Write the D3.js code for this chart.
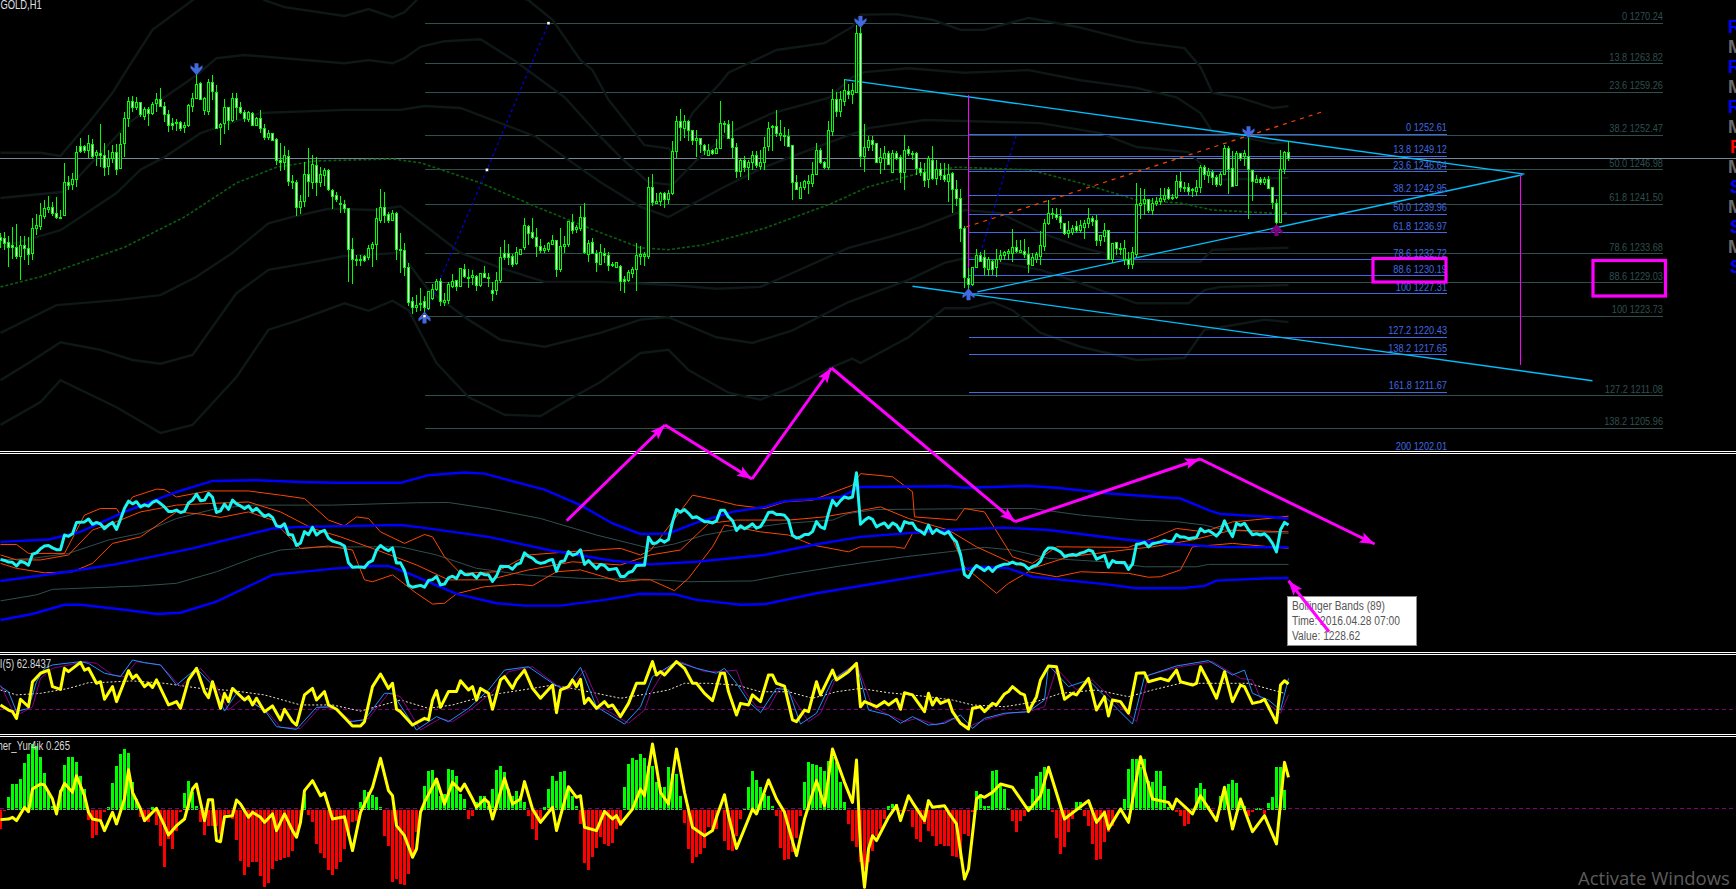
<!DOCTYPE html>
<html><head><meta charset="utf-8">
<script src="https://cdn.jsdelivr.net/npm/d3@7"></script>
<style>html,body{margin:0;padding:0;background:#000;overflow:hidden}svg{display:block}text{font-family:"Liberation Sans",Arial,sans-serif}</style>
</head><body><svg id="c" width="1736" height="889"></svg>
<script>
// ---------- candle data (GOLD,H1), one entry per bar ----------
const candleHighs=[1236.9,1237.1,1236.4,1237.9,1238.4,1236.4,1236.5,1236.3,1239.3,1240.0,
1241.7,1242.2,1242.8,1241.8,1242.6,1240.6,1248.0,1246.0,1246.4,1250.8,
1252.0,1251.0,1252.5,1251.8,1250.1,1254.2,1251.2,1250.1,1250.9,1251.1,
1252.9,1256.1,1258.5,1258.7,1258.5,1257.8,1256.9,1256.9,1257.8,1259.1,
1259.9,1257.7,1256.5,1255.2,1255.0,1254.8,1254.5,1257.4,1259.1,1262.7,
1261.0,1258.6,1261.4,1262.1,1260.5,1254.4,1258.2,1257.0,1259.1,1259.1,
1257.8,1256.5,1256.3,1256.1,1255.3,1256.5,1254.3,1253.3,1252.9,1252.0,
1251.3,1250.8,1250.2,1246.2,1245.4,1243.0,1248.3,1250.5,1249.3,1249.0,
1247.5,1247.2,1247.1,1244.0,1243.4,1242.8,1242.2,1240.9,1236.1,1233.5,
1233.5,1233.5,1235.1,1235.6,1241.0,1244.0,1243.4,1240.3,1240.6,1240.3,
1236.9,1235.4,1232.2,1226.8,1227.1,1228.3,1226.9,1227.8,1228.9,1229.6,
1229.8,1227.5,1229.2,1230.5,1229.5,1231.4,1232.0,1231.3,1231.1,1230.3,
1230.6,1231.7,1230.6,1229.2,1230.8,1234.7,1235.9,1235.2,1233.6,1234.7,
1234.4,1239.3,1238.2,1239.4,1237.7,1236.0,1235.1,1235.6,1236.6,1235.9,
1237.7,1236.4,1238.7,1240.0,1238.2,1241.3,1241.7,1235.9,1236.1,1234.2,
1235.2,1234.5,1234.0,1232.4,1232.4,1231.9,1230.1,1231.1,1231.6,1235.3,
1234.9,1234.0,1245.9,1246.3,1243.3,1243.5,1243.5,1243.8,1251.6,1255.6,
1256.6,1255.7,1254.9,1253.3,1253.3,1252.1,1251.1,1251.1,1250.3,1251.8,
1257.9,1254.7,1254.9,1254.7,1251.2,1248.8,1249.2,1248.5,1249.9,1250.0,
1250.1,1252.2,1254.6,1254.1,1256.4,1254.9,1253.7,1253.4,1250.8,1246.2,
1245.0,1245.4,1246.2,1248.2,1251.3,1250.4,1248.4,1254.7,1259.8,1259.4,
1259.5,1261.4,1260.6,1260.7,1270.0,1270.8,1254.3,1252.4,1252.3,1251.3,
1250.4,1250.8,1249.9,1250.1,1250.0,1249.4,1252.5,1250.7,1250.0,1249.8,
1248.3,1248.1,1249.1,1250.8,1248.6,1248.1,1248.1,1247.9,1246.6,1245.4,
1244.0,1238.0,1231.4,1231.6,1234.4,1234.0,1234.3,1233.2,1232.6,1234.4,
1234.3,1234.1,1234.4,1237.6,1235.9,1235.8,1236.0,1234.8,1233.7,1233.9,
1237.2,1239.1,1242.2,1241.0,1240.9,1240.7,1238.6,1238.8,1238.2,1238.8,
1239.0,1239.0,1240.9,1239.6,1239.8,1236.7,1238.6,1237.3,1235.4,1235.5,
1235.3,1235.9,1234.0,1234.8,1244.9,1244.1,1244.0,1242.4,1242.5,1242.7,
1244.1,1244.1,1244.2,1243.2,1246.2,1246.6,1245.1,1244.9,1244.1,1245.4,
1247.7,1247.7,1247.2,1246.9,1246.2,1246.7,1250.9,1250.7,1249.9,1249.9,
1249.7,1250.1,1252.7,1247.0,1246.2,1245.9,1245.8,1246.0,1244.2,1242.3,
1250.1,1249.9,1251.5];
const candleLows=[1234.5,1234.3,1231.5,1232.8,1232.8,1229.5,1232.7,1231.9,1232.7,1236.6,
1237.4,1239.1,1240.1,1239.6,1239.1,1239.2,1239.7,1243.7,1243.7,1244.2,
1249.7,1249.6,1248.8,1248.8,1247.6,1247.5,1246.0,1246.2,1248.0,1246.2,
1247.2,1249.0,1253.8,1256.2,1256.4,1255.3,1254.9,1254.0,1255.7,1256.1,
1256.9,1254.6,1253.0,1253.3,1253.2,1253.2,1252.9,1253.8,1256.2,1258.2,
1258.0,1255.7,1255.7,1258.1,1253.4,1250.9,1252.7,1253.3,1254.6,1254.9,
1255.8,1254.6,1254.5,1254.0,1254.0,1252.9,1251.7,1251.7,1251.5,1247.8,
1246.8,1247.0,1244.4,1243.9,1239.7,1240.0,1241.1,1242.6,1244.0,1242.8,
1244.2,1244.4,1243.6,1240.8,1241.8,1240.2,1240.2,1229.2,1228.9,1231.7,
1231.7,1232.3,1232.7,1231.6,1232.7,1238.6,1238.5,1238.6,1238.8,1232.7,
1230.6,1230.2,1225.3,1224.1,1224.4,1224.5,1224.0,1224.8,1226.3,1227.7,
1225.3,1225.3,1225.7,1228.3,1227.8,1228.4,1229.8,1228.3,1228.7,1227.8,
1228.4,1229.8,1228.4,1226.2,1227.1,1229.0,1232.7,1231.9,1231.6,1231.9,
1233.5,1234.3,1235.1,1236.0,1233.2,1233.8,1233.8,1234.0,1235.1,1229.9,
1230.8,1233.8,1234.8,1236.8,1237.0,1237.3,1233.6,1232.4,1233.6,1230.8,
1231.9,1232.2,1230.9,1231.6,1231.4,1227.8,1227.5,1229.1,1229.8,1227.8,
1231.9,1231.7,1232.9,1241.3,1241.5,1241.3,1240.9,1241.5,1243.0,1248.8,
1251.5,1252.0,1251.6,1250.9,1249.0,1249.6,1249.3,1249.1,1249.3,1249.5,
1250.3,1252.8,1251.8,1248.8,1245.7,1245.9,1246.7,1245.4,1247.0,1247.3,
1247.0,1247.0,1249.9,1249.9,1252.2,1251.5,1250.8,1250.6,1242.2,1243.7,
1242.4,1243.7,1243.2,1244.3,1246.2,1247.9,1247.1,1247.0,1252.3,1255.4,
1255.4,1257.1,1258.3,1257.4,1259.2,1247.5,1246.7,1250.0,1250.0,1248.0,
1246.3,1247.0,1247.7,1246.4,1248.6,1244.9,1243.7,1249.2,1248.6,1246.2,
1246.0,1244.3,1244.1,1245.4,1244.6,1245.4,1245.1,1241.9,1240.2,1241.3,
1235.6,1228.2,1227.4,1228.6,1231.4,1232.3,1230.3,1230.1,1230.3,1229.9,
1232.4,1232.7,1232.6,1232.4,1233.7,1233.7,1233.0,1230.6,1231.7,1232.2,
1231.8,1234.1,1238.2,1239.2,1239.0,1237.6,1236.6,1236.1,1236.7,1236.9,
1236.9,1236.0,1237.7,1238.0,1234.9,1234.9,1235.6,1232.6,1232.2,1233.5,
1233.5,1231.9,1231.3,1231.3,1233.2,1239.2,1239.8,1240.1,1239.8,1241.3,
1241.4,1241.9,1242.2,1242.2,1242.4,1243.5,1243.5,1243.0,1242.6,1242.8,
1243.3,1245.4,1244.9,1244.6,1244.3,1244.4,1246.2,1243.2,1244.3,1244.5,
1248.4,1247.6,1239.1,1242.1,1244.9,1244.6,1244.6,1243.9,1240.8,1237.7,
1238.5,1246.3,1248.4];
const bodyTops=[1236.2,1236.1,1235.5,1234.9,1234.7,1235.0,1234.9,1234.5,1237.7,1238.2,
1239.8,1240.8,1241.0,1241.0,1240.1,1239.4,1245.0,1245.0,1245.5,1249.8,
1250.7,1250.7,1251.1,1251.0,1249.8,1249.6,1249.2,1248.8,1249.8,1249.8,
1251.0,1255.2,1257.9,1257.9,1257.7,1257.7,1256.5,1256.5,1257.4,1258.1,
1258.2,1257.0,1255.7,1254.3,1254.5,1254.5,1254.0,1257.2,1258.3,1260.6,
1260.7,1258.3,1260.9,1260.9,1259.3,1254.2,1256.8,1256.8,1258.3,1258.3,
1256.9,1256.1,1256.1,1256.0,1255.2,1255.2,1253.6,1252.8,1252.8,1251.8,
1248.5,1249.3,1249.1,1245.2,1245.0,1242.0,1246.3,1246.3,1247.9,1247.7,
1246.2,1246.8,1246.8,1243.7,1242.9,1241.7,1241.5,1240.9,1234.3,1232.8,
1232.8,1233.2,1234.5,1235.2,1239.3,1241.0,1241.0,1239.9,1240.1,1240.1,
1234.4,1234.2,1231.5,1226.0,1225.5,1225.8,1226.0,1227.7,1228.0,1229.2,
1229.2,1226.3,1228.7,1229.3,1229.4,1231.3,1231.2,1229.9,1230.2,1230.1,
1230.5,1230.6,1229.9,1227.9,1229.4,1233.1,1233.7,1233.7,1233.2,1233.8,
1234.3,1238.2,1238.0,1237.0,1236.2,1234.8,1234.5,1235.3,1235.7,1235.7,
1234.8,1235.2,1238.7,1238.6,1237.8,1239.4,1239.4,1235.3,1235.5,1233.7,
1233.8,1233.7,1233.4,1232.0,1232.2,1231.7,1229.6,1230.7,1231.2,1233.4,
1233.5,1233.5,1244.2,1244.2,1242.0,1243.2,1243.2,1243.3,1249.9,1254.7,
1254.7,1254.7,1254.7,1253.3,1252.0,1252.0,1250.9,1250.1,1250.1,1250.4,
1254.4,1254.4,1254.2,1252.0,1250.6,1248.5,1248.5,1248.2,1249.3,1249.3,
1248.2,1250.6,1253.6,1253.8,1253.8,1252.8,1252.5,1252.3,1250.8,1244.9,
1244.2,1245.2,1245.2,1246.3,1250.1,1250.1,1248.2,1253.3,1258.2,1258.2,
1258.1,1259.5,1259.4,1259.5,1268.7,1268.7,1250.6,1251.7,1251.7,1251.1,
1249.0,1249.6,1249.6,1249.6,1249.6,1249.0,1250.1,1250.2,1249.6,1249.6,
1247.2,1246.5,1248.8,1248.4,1247.1,1247.1,1246.1,1246.3,1246.4,1243.9,
1242.5,1237.7,1229.8,1231.5,1233.4,1233.4,1233.0,1232.7,1232.5,1232.8,
1233.4,1233.9,1234.0,1234.7,1234.7,1234.1,1234.0,1233.6,1233.0,1233.5,
1235.0,1238.5,1240.1,1240.1,1239.9,1239.5,1238.5,1237.3,1237.6,1238.0,
1238.1,1238.5,1239.3,1239.3,1238.9,1236.5,1237.3,1237.3,1235.3,1235.5,
1234.5,1234.5,1232.7,1233.9,1241.5,1241.7,1242.2,1242.2,1241.7,1242.0,
1242.4,1242.9,1243.9,1242.6,1245.2,1245.2,1244.2,1244.2,1243.9,1244.1,
1247.4,1247.4,1246.7,1246.6,1245.8,1246.3,1250.4,1250.4,1247.2,1249.5,
1249.5,1249.5,1249.1,1246.9,1245.5,1245.5,1245.5,1245.5,1244.1,1241.7,
1247.0,1249.8,1249.8];
const bodyBottoms=[1235.7,1235.3,1234.7,1234.6,1233.2,1233.2,1234.5,1233.5,1233.7,1237.7,
1238.0,1239.6,1240.7,1240.1,1239.4,1239.2,1239.7,1244.5,1244.7,1245.5,
1249.9,1250.0,1250.0,1249.1,1249.2,1249.2,1247.4,1247.5,1248.7,1247.1,
1247.2,1251.2,1255.2,1256.9,1256.8,1255.7,1255.4,1256.0,1255.9,1257.5,
1257.0,1255.7,1254.0,1254.0,1254.3,1253.6,1253.7,1254.0,1257.0,1258.3,
1258.1,1256.4,1256.2,1259.4,1253.6,1253.7,1254.4,1254.8,1254.8,1256.9,
1256.1,1255.1,1254.9,1254.0,1254.0,1253.6,1252.1,1252.1,1251.7,1248.5,
1248.1,1248.1,1245.2,1245.0,1241.0,1241.0,1242.0,1245.1,1245.0,1245.0,
1245.0,1246.1,1243.8,1242.7,1242.2,1241.4,1240.8,1234.4,1232.7,1232.6,
1232.6,1232.6,1233.0,1234.5,1235.2,1239.0,1239.8,1239.0,1238.9,1234.3,
1234.2,1231.5,1225.9,1225.1,1225.1,1225.6,1225.1,1225.0,1226.5,1228.0,
1226.0,1225.9,1226.2,1228.4,1228.4,1228.4,1230.0,1229.8,1229.9,1228.6,
1228.6,1229.9,1229.9,1227.3,1227.9,1229.4,1233.0,1233.0,1232.0,1232.1,
1233.6,1234.6,1236.9,1236.2,1234.8,1234.2,1234.2,1234.3,1235.1,1231.2,
1231.1,1234.8,1235.1,1237.3,1237.5,1237.6,1233.8,1233.6,1233.7,1232.2,
1232.0,1233.4,1231.8,1231.8,1231.5,1229.2,1229.2,1229.4,1230.6,1231.2,
1233.3,1233.2,1233.2,1241.8,1241.7,1241.9,1242.3,1242.3,1243.2,1249.9,
1253.7,1253.5,1253.3,1251.6,1251.6,1251.0,1250.1,1249.2,1249.6,1249.6,
1250.4,1254.3,1251.9,1250.5,1246.7,1246.7,1247.4,1247.4,1248.1,1247.6,
1247.5,1248.2,1250.7,1253.7,1252.8,1252.4,1252.3,1250.7,1244.9,1243.9,
1242.4,1244.2,1244.8,1244.8,1246.3,1248.1,1247.4,1247.3,1253.1,1256.2,
1256.3,1257.9,1259.0,1258.9,1259.3,1249.1,1249.1,1250.6,1251.0,1248.1,
1248.1,1248.8,1247.8,1246.5,1248.8,1246.5,1246.5,1249.5,1249.5,1247.2,
1246.5,1245.3,1245.4,1245.6,1245.6,1246.1,1245.4,1245.2,1243.9,1242.4,
1237.7,1229.9,1228.8,1228.8,1231.5,1232.4,1231.4,1231.1,1231.1,1231.4,
1232.8,1233.4,1233.7,1233.7,1234.0,1233.9,1233.5,1232.0,1231.8,1232.8,
1233.3,1234.8,1238.4,1239.9,1239.4,1238.6,1236.8,1236.8,1237.0,1237.3,
1237.3,1237.9,1238.5,1238.8,1235.8,1235.8,1236.4,1232.7,1232.7,1234.5,
1234.4,1232.7,1231.9,1231.9,1233.6,1241.3,1241.6,1240.5,1240.5,1241.6,
1241.9,1242.2,1242.5,1242.4,1242.6,1244.2,1244.1,1243.6,1243.8,1243.6,
1244.1,1246.2,1246.1,1245.8,1244.6,1244.6,1246.3,1247.0,1244.4,1244.5,
1248.7,1249.1,1247.0,1245.1,1245.0,1245.0,1244.9,1244.0,1241.8,1238.6,
1238.6,1247.0,1248.8];
// W = falling candle (white body), H = rising candle (hollow body)
const candleKinds=("WWWWWHWWHH"+"HHHWWHHWHH"+"WWHWHWWHHW"+"HHHWHWHWHH"+"WWWWHWHHHH"+"WHHWWHHWHW"+"WWHWHWWHWW"+"WHWWWHHWHW"+"HHWWWHWWWH"+"HWHHHHWWHW"+"HWWWHHWHHH"+"WHHHWHWHHW"+"HWHWHHWWWH"+"HHWWWWHHHW"+"HHHWHHWHWW"+"HWWHHWWHHH"+"HHHWHHWHHH"+"WHWWHWWHWH"+"HHWWWHWHHW"+"HHHHWHHWWW"+"HHHHHWWHHW"+"HHWHHWHHWW"+"HHWHWWHWHW"+"WWHWHWWHWW"+"WWWHHWWHWH"+"HHHHWHWWHH"+"HHHHWWWHHW"+"HHHWWHHWHW"+"HHWHHHHWHH"+"HHWHHWHWHH"+"HWHWWHHWWH"+"WHWWHWHWWW"+"HHW").split("");

// ---------- main-window envelope lines: [bar, price] ----------
const envUpper3=[[0,1249.7],[10,1249.7],[15,1249.2],[22,1254.4],[28,1259.2],[32,1263.3],[38,1269.2],[48,1273.9],[58,1278.7],[66,1273.9],[71,1272.8],[86,1271.4],[92,1272.5],[98,1271.2],[101,1272.0],[104,1273.9],[112,1278.7],[132,1273.9],[138,1270.8],[145,1264.4],[148,1262.8],[152,1258.1],[161,1250.9],[167,1250.4],[168,1249.8],[173,1256.0],[180,1260.8],[182,1262.4],[194,1266.0],[206,1267.1],[213,1269.7],[215,1271.6],[224,1271.7],[233,1270.8],[240,1269.2],[246,1269.2],[257,1271.1],[269,1269.7],[284,1267.3],[296,1266.3],[300,1263.3],[303,1259.2],[310,1258.4],[318,1256.8],[322,1257.1]];
const envUpper2=[[0,1242.5],[16,1243.5],[32,1254.4],[41,1258.5],[49,1262.0],[54,1264.7],[61,1265.2],[86,1263.9],[92,1264.4],[98,1263.9],[101,1264.7],[105,1266.5],[111,1267.4],[120,1267.7],[129,1264.1],[141,1258.5],[150,1252.2],[155,1249.0],[162,1245.0],[168,1244.6],[174,1248.5],[182,1252.8],[193,1256.0],[207,1258.4],[213,1261.7],[216,1262.5],[227,1263.1],[241,1262.4],[257,1262.8],[270,1261.2],[284,1260.0],[294,1258.5],[300,1256.0],[303,1253.0],[308,1252.5],[318,1251.2],[322,1251.4]];
const envUpper1=[[0,1234.7],[9,1236.3],[15,1237.4],[20,1239.5],[29,1243.3],[35,1247.0],[41,1249.0],[50,1252.8],[65,1256.0],[86,1256.5],[100,1256.5],[106,1257.1],[115,1256.8],[125,1254.4],[134,1252.2],[141,1249.0],[150,1245.0],[160,1241.1],[167,1239.5],[181,1244.3],[191,1247.4],[204,1250.6],[217,1253.6],[231,1254.9],[260,1254.4],[275,1252.8],[284,1250.6],[297,1249.8],[301,1247.4],[303,1245.4],[322,1245.7]];
const envMiddle=[[0,1228.4],[10,1230.0],[31,1234.7],[46,1239.5],[59,1244.9],[69,1247.4],[79,1248.4],[98,1248.7],[105,1248.1],[120,1244.9],[134,1241.1],[150,1237.0],[160,1234.6],[167,1234.3],[176,1235.1],[191,1237.7],[208,1241.7],[217,1244.3],[230,1246.5],[239,1247.4],[257,1247.0],[270,1244.9],[284,1242.2],[295,1241.7],[303,1240.6],[318,1240.1],[322,1240.1]];
const envLower1=[[0,1221.1],[14,1225.5],[29,1226.3],[40,1227.1],[49,1230.0],[58,1233.8],[67,1238.5],[73,1239.5],[82,1240.8],[94,1240.6],[100,1241.2],[105,1238.7],[115,1233.8],[125,1231.4],[136,1229.2],[150,1229.2],[168,1228.7],[179,1228.1],[190,1228.4],[198,1230.6],[212,1234.6],[222,1236.3],[230,1237.9],[241,1240.6],[250,1240.1],[260,1237.0],[270,1234.7],[284,1232.4],[300,1232.4],[303,1234.3],[322,1234.6]];
const envLower2=[[0,1213.6],[7,1216.3],[15,1219.6],[25,1218.4],[33,1216.8],[40,1216.2],[48,1217.6],[59,1227.4],[67,1231.1],[77,1232.2],[86,1233.3],[100,1233.8],[107,1227.9],[117,1223.2],[125,1220.0],[136,1218.9],[150,1221.1],[160,1223.2],[167,1223.6],[179,1220.4],[188,1219.5],[198,1221.5],[212,1226.0],[227,1229.5],[236,1232.2],[242,1233.1],[260,1231.1],[270,1229.0],[284,1225.8],[297,1225.8],[301,1227.9],[305,1228.4],[322,1228.7]];
const envLower3=[[0,1206.5],[10,1210.1],[15,1213.6],[29,1209.3],[40,1205.2],[48,1206.5],[59,1214.1],[67,1221.6],[74,1223.0],[86,1225.8],[92,1224.6],[98,1226.2],[102,1224.7],[109,1216.3],[117,1210.9],[126,1208.1],[135,1207.9],[142,1210.5],[150,1213.3],[160,1217.9],[167,1218.4],[172,1215.2],[182,1211.6],[190,1210.5],[198,1212.5],[208,1215.7],[213,1217.0],[215,1216.3],[227,1220.4],[236,1225.0],[242,1225.0],[248,1226.0],[253,1224.7],[260,1221.1],[270,1218.9],[284,1216.8],[296,1217.1],[301,1221.6],[308,1222.3],[316,1223.2],[322,1222.8]];

// ---------- Fibonacci levels ----------
const fibOuterLevels=["0","13.8","23.6","38.2","50.0","61.8","78.6","88.6","100","127.2","138.2"];
const fibOuterPrices=[1270.24,1263.82,1259.26,1252.47,1246.98,1241.50,1233.68,1229.03,1223.73,1211.08,1205.96];
const fibInnerLevels=["0","13.8","23.6","38.2","50.0","61.8","78.6","88.6","100","127.2","138.2","161.8","200"];
const fibInnerPrices=[1252.61,1249.12,1246.64,1242.95,1239.96,1236.97,1232.72,1230.19,1227.31,1220.43,1217.65,1211.67,1202.01];
const fibOuterAxis=[[106,1223.73],[121.6,1246.98],[137,1270.24]];
const fibInnerAxis=[[241.9,1227.31],[254,1252.61]];

// ---------- fractal arrows: bar, tip price, direction ----------
const fractalBars=[49,215,312,106,242,319];
const fractalPrices=[1262.0,1269.5,1252.0,1224.5,1228.2,1238.4];
const fractalDirs=["down","down","down","up","up","up"];
const fractalColors=["#4169e1","#4169e1","#4169e1","#4169e1","#4169e1","#800080"];

// ---------- second window: bands on price ----------
const bbOuterUpper=[[0,1242.4],[12,1243.3],[20,1246.2],[31,1253.8],[44,1261.4],[53,1265.6],[64,1265.9],[75,1265.2],[84,1264.9],[100,1264.9],[107,1267.8],[116,1268.8],[121,1268.4],[136,1262.3],[145,1256.4],[153,1249.4],[160,1245.4],[167,1245.6],[174,1249.7],[183,1253.8],[191,1255.7],[196,1257.9],[210,1259.5],[215,1263.3],[237,1263.6],[241,1263.0],[257,1263.7],[264,1263.0],[277,1260.8],[295,1258.9],[302,1254.5],[305,1253.0],[317,1251.9],[322,1251.3]];
const bbMiddle=[[0,1227.5],[16,1230.8],[29,1233.9],[48,1239.9],[68,1247.5],[75,1248.1],[100,1248.8],[105,1247.9],[122,1244.3],[137,1239.3],[153,1235.2],[162.5,1233.8],[174,1234.8],[191,1237.4],[203,1241.2],[215,1244.3],[237,1246.9],[251,1247.8],[262,1246.9],[282,1243.1],[294,1241.6],[304,1240.5],[322,1240.3]];
const bbOuterLower=[[0,1212.6],[8,1214.9],[16,1218.4],[20,1218.4],[31,1216.5],[39,1214.9],[45,1215.4],[54,1219.6],[68,1229.8],[84,1232.3],[93,1233.2],[97,1233.2],[102,1230.4],[114,1222.6],[124,1219.0],[131,1218.1],[140,1218.1],[151,1220.3],[160,1222.6],[168.5,1222.4],[174,1220.3],[185,1218.4],[191,1218.6],[204,1222.8],[219,1226.6],[239,1231.7],[246,1232.9],[252,1232.3],[258,1229.1],[276,1226.3],[284,1224.7],[295,1224.7],[301,1225.6],[304,1227.6],[317,1228.5],[322,1228.62]];
const bbInnerUpper=[[0,1235.5],[8,1236.1],[17,1238.0],[27,1243.1],[35,1245.6],[44,1251.3],[54,1255.1],[63,1256.4],[83,1256.4],[104,1257.3],[112,1257.4],[122,1255.1],[135,1251.3],[149,1245.0],[162.5,1239.9],[168.5,1241.6],[176,1245.0],[183,1246.9],[196,1249.4],[208,1250.7],[212,1253.2],[219,1254.7],[246,1255.1],[258,1255.1],[270,1252.6],[284,1250.7],[294,1250.1],[301,1248.8],[306,1246.9],[322,1245.6]];
const bbInnerLower=[[0,1219.9],[9,1222.2],[13,1224.3],[35,1225.6],[44,1226.6],[54,1231.0],[64,1236.7],[70,1239.3],[79,1240.3],[91,1240.5],[100,1240.5],[109,1237.4],[119,1232.3],[131,1229.8],[145,1228.5],[162.5,1228.1],[172,1227.2],[188,1227.5],[196,1229.8],[210,1233.2],[226,1236.7],[237,1238.6],[246,1240.3],[253,1239.3],[262,1236.1],[276,1234.8],[286,1232.9],[299,1232.9],[302,1233.8],[322,1233.8]];
const fastUpper=[[0,1241.4],[4,1241.4],[7,1238.0],[16,1238.0],[21,1252.6],[25,1255.1],[29,1255.1],[30,1252.6],[33,1259.5],[39,1262.5],[41,1262.3],[44,1259.5],[52,1261.8],[62,1261.8],[70,1260.2],[76,1258.9],[82,1250.7],[86,1248.5],[89,1251.9],[92,1251.3],[95,1246.2],[101,1241.8],[106,1245.2],[108,1244.3],[111,1236.7],[115,1230.4],[124,1231.0],[132,1237.4],[142,1238.6],[155,1239.9],[160,1237.4],[162.5,1239.2],[167,1248.1],[173,1260.2],[179,1258.3],[184,1256.4],[191,1255.1],[196,1257.6],[203,1258.3],[213,1264.0],[215,1268.4],[223,1267.2],[228,1261.5],[228.5,1251.9],[239,1250.7],[241,1255.1],[246,1253.8],[253,1236.7],[258,1234.2],[264,1240.5],[282,1240.3],[289,1244.3],[294,1247.5],[301,1246.2],[308,1250.0],[317,1251.3],[322,1252.2]];
const fastMiddle=[[0,1237.4],[4,1235.5],[10,1235.5],[17,1237.4],[23,1246.9],[29,1250.1],[35,1253.8],[44,1256.4],[52,1257.0],[62,1257.6],[70,1253.8],[78,1247.5],[85,1244.3],[93,1239.9],[104,1233.6],[112,1227.9],[122,1227.9],[132,1231.7],[143,1234.8],[155,1233.6],[162.5,1237.4],[170,1239.3],[177,1249.4],[184,1250.7],[191,1250.7],[197,1250.7],[206,1251.9],[213,1253.8],[220,1255.7],[227,1251.3],[237,1246.9],[244,1240.5],[253,1234.2],[258,1232.3],[267,1236.7],[281,1239.3],[288,1240.5],[298,1243.1],[308,1246.9],[322,1246.2]];
const fastLower=[[0,1234.2],[4,1232.3],[11,1230.6],[18,1231.0],[23,1234.2],[28,1241.8],[35,1244.3],[41,1250.7],[44,1253.8],[50,1253.0],[55,1251.7],[62,1253.8],[68,1250.7],[75,1239.9],[82,1240.8],[88,1239.3],[91,1227.9],[93,1227.2],[98,1229.8],[104,1222.8],[108,1218.7],[111,1219.0],[114,1222.6],[121,1225.3],[129,1226.2],[133,1225.7],[139,1231.0],[145,1231.7],[155,1227.2],[160,1227.9],[162.5,1227.9],[168.5,1223.8],[172,1228.5],[178,1240.5],[181,1248.8],[190,1246.2],[197,1245.0],[203,1241.2],[212,1238.6],[215,1240.5],[223.5,1240.5],[226,1239.9],[228,1245.6],[237,1246.9],[241,1232.9],[249,1222.8],[252,1226.6],[257,1231.0],[264,1229.1],[270,1231.0],[282,1230.4],[287,1228.9],[290,1229.1],[295,1231.7],[298,1240.5],[308,1241.8],[322,1239.9]];

// ---------- third window: RSI(5) and its companions ----------
const rsiLine=[[0,52.2],[2,49.6],[3,48.8],[4,45.4],[5,55.1],[7,51.3],[8,64.0],[10,68.3],[12,69.9],[13,61.5],[15,60.1],[16,70.8],[17,69.1],[20,73.8],[21,69.9],[22,70.8],[24,63.2],[25,64.0],[26,55.1],[28,61.5],[29,53.9],[32,69.6],[33,65.7],[34,67.4],[36,61.5],[37,63.2],[38,61.1],[39,64.9],[42,52.2],[43,53.0],[44,53.9],[45,50.5],[47,64.9],[49,70.8],[51,59.0],[52,55.9],[53,64.0],[55,50.5],[56,58.1],[57,53.9],[58,60.6],[61,54.7],[62,56.4],[63,52.2],[64,55.6],[66,48.8],[68,51.7],[70,44.6],[71,50.0],[73,43.7],[74,42.0],[76,57.3],[78,60.6],[79,54.7],[81,59.0],[82,52.2],[84,50.0],[87,43.7],[88,41.5],[90,41.5],[91,43.7],[93,61.5],[95,67.9],[97,60.6],[98,63.2],[99,50.0],[100,48.8],[103,42.0],[106,45.4],[107,44.6],[108,54.7],[109,59.5],[110,51.0],[112,59.0],[114,59.0],[115,64.5],[117,59.8],[118,61.5],[119,54.7],[120,60.6],[122,58.1],[123,50.0],[125,64.9],[126,66.6],[128,60.6],[129,64.9],[131,69.9],[133,60.6],[135,55.6],[138,62.3],[139,48.3],[140,59.8],[142,61.5],[143,64.9],[144,61.5],[145,65.2],[146,53.0],[147,55.6],[149,50.5],[151,53.9],[152,51.3],[153,52.2],[155,46.3],[157,53.0],[159,63.2],[161,63.2],[163,74.2],[164,67.4],[165,69.1],[166,67.4],[169,74.2],[171,70.8],[173,63.2],[174,63.2],[176,58.1],[178,54.4],[180,68.3],[181,68.3],[182,59.0],[184,47.1],[185,53.0],[187,52.2],[188,57.3],[190,53.9],[192,67.4],[193,67.4],[194,63.2],[196,61.8],[198,44.6],[199,43.7],[201,49.6],[202,48.8],[204,64.0],[205,57.3],[208,69.9],[209,64.9],[212,69.1],[214,73.3],[215,51.3],[216,53.9],[219,51.3],[221,53.9],[222,52.2],[224,55.1],[225,50.0],[226,58.4],[228,57.3],[231,48.8],[232,58.1],[233,52.2],[234,55.6],[235,53.0],[237,54.7],[238,48.8],[240,42.9],[242,40.0],[243,50.5],[245,51.3],[246,48.8],[248,53.0],[249,52.2],[251,57.8],[252,59.0],[253,61.5],[255,58.1],[256,57.3],[257,48.8],[259,56.4],[260,64.9],[262,72.0],[264,71.6],[266,55.1],[268,58.1],[269,57.3],[272,65.7],[274,49.6],[276,56.4],[277,46.6],[278,54.7],[280,53.9],[282,48.0],[284,68.3],[286,68.6],[287,64.0],[290,65.7],[292,64.5],[294,69.9],[295,64.0],[298,62.3],[299,63.2],[300,71.6],[302,64.0],[304,55.6],[306,69.1],[308,53.9],[310,62.3],[311,61.5],[313,53.0],[315,53.9],[316,55.1],[319,43.2],[320,62.3],[321,64.5],[322,62.84]];
const rsiFast=[[0,61.5],[2,58.9],[4,48.8],[7,50.5],[9,64.0],[11,70.8],[13,72.5],[20,74.2],[22,73.3],[26,68.3],[30,66.6],[33,75.0],[36,73.7],[40,72.5],[44,62.3],[49,70.8],[53,62.3],[56,49.1],[59,58.1],[66,49.6],[69,41.2],[74,39.8],[79,51.0],[83,51.3],[87,43.7],[91,44.6],[96,58.1],[98,58.1],[104,39.5],[109,46.3],[112,43.7],[117,50.5],[122,59.8],[126,69.9],[132,71.6],[138,63.2],[141,59.8],[145,71.3],[149,51.3],[156,42.5],[160,51.3],[163,66.6],[165,69.1],[169,74.2],[174,70.8],[179,68.3],[181,70.8],[184,63.2],[187,53.9],[190,48.3],[194,60.6],[197,59.8],[200,42.5],[204,48.0],[208,64.9],[214,73.0],[217,49.6],[222,47.1],[225,42.9],[228,46.3],[232,42.0],[236,42.9],[240,47.1],[243,40.3],[246,45.4],[251,48.0],[257,48.8],[261,54.7],[262,72.5],[267,61.5],[272,64.9],[277,54.7],[283,42.5],[286,66.6],[294,72.0],[302,74.7],[308,67.4],[311,69.9],[313,58.1],[317,54.7],[320,49.6],[322,65.7]];
const rsiSlow=[[0,62.3],[3,49.6],[5,47.9],[8,51.3],[10,65.7],[13,70.8],[21,74.2],[24,73.3],[28,67.4],[31,66.6],[34,74.2],[37,73.3],[40,72.5],[45,61.5],[50,70.8],[54,61.5],[57,49.6],[61,56.4],[67,48.0],[70,40.8],[75,40.3],[80,51.3],[84,50.0],[88,43.7],[92,45.4],[97,58.1],[100,56.4],[105,39.5],[110,45.4],[113,43.7],[118,50.5],[123,59.0],[127,69.1],[133,71.6],[139,62.3],[142,59.8],[146,69.9],[150,51.3],[157,42.9],[161,49.6],[162.5,58.1],[166,69.9],[170,74.2],[176,69.1],[180,69.1],[184,69.9],[186,59.0],[189,51.3],[192,50.5],[195,61.5],[198,56.4],[202,43.7],[205,48.0],[209,66.6],[214,73.3],[218,51.3],[222,47.1],[226,43.7],[229,45.4],[234,42.0],[238,45.4],[242,41.2],[246,44.6],[252,48.0],[257,48.8],[261,51.3],[264,70.8],[269,59.8],[273,64.9],[279,53.0],[284,43.7],[287,67.4],[295,71.6],[303,74.2],[310,65.7],[313,64.9],[315,55.6],[320,48.0],[322,57.3]];
const rsiAverage=[[0,59.8],[4,57.3],[10,58.1],[17,60.6],[22,63.5],[26,63.7],[33,64.4],[41,63.2],[50,60.6],[58,59.5],[66,57.3],[75,52.2],[83,52.2],[90,49.1],[100,54.7],[107,50.5],[113,52.2],[119,55.6],[125,58.1],[133,60.6],[138,62.3],[145,59.8],[155,55.6],[162.5,58.1],[167,59.8],[171,63.2],[177,63.2],[184,62.3],[190,58.9],[197,58.9],[203,55.6],[209,58.9],[215,60.6],[222,58.4],[232,56.4],[238,54.7],[243,52.2],[251,51.3],[259,53.9],[265,58.1],[274,59.8],[282,56.4],[288,59.8],[295,63.2],[303,63.2],[312,63.2],[321,58.1]];
const rsiLevel=50;

// ---------- fourth window: histogram per bar and its line ----------
const histogramValues=[-.154,-.010,.103,.211,.211,.251,.381,.454,.535,.521,.427,.300,.143,.035,.008,.162,.365,.427,.427,.386,.278,.170,-.081,-.227,-.203,-.100,-.019,.022,.219,.359,.454,.494,.462,.224,.089,-.059,-.100,-.095,.024,-.119,-.289,-.459,-.235,-.316,-.167,-.019,.138,.235,.143,.035,-.100,-.203,-.127,-.127,-.127,-.194,-.046,-.032,-.073,-.240,-.410,-.527,-.464,-.424,-.424,-.537,-.626,-.594,-.478,-.410,-.402,-.392,-.383,-.335,-.221,-.100,.130,-.038,-.100,-.275,-.348,-.392,-.483,-.527,-.478,-.424,-.316,-.208,-.100,-.086,.062,.162,.143,.122,.108,.022,-.208,-.294,-.586,-.559,-.599,-.605,-.518,-.383,-.181,-.019,.192,.319,.327,.224,.116,.130,.332,.327,.278,.130,.089,-.073,-.046,.062,.116,.116,.035,.170,.324,.359,.305,.170,.116,.157,.116,.062,-.046,-.154,-.243,-.100,.022,.170,.278,.238,.305,.319,.197,.116,.035,-.113,-.429,-.486,-.383,-.308,-.221,-.275,-.294,-.270,-.154,-.127,.184,.373,.419,.408,.454,.419,.359,.359,.224,.184,.184,.346,.292,.292,.116,-.105,-.316,-.429,-.383,-.356,-.308,-.140,-.167,-.154,.003,-.248,-.324,-.335,-.208,-.073,.016,.184,.316,.243,.184,.130,.116,.035,-.046,-.311,-.402,-.397,-.343,-.230,-.046,.230,.392,.373,.365,.346,.319,.400,.427,.392,.224,.062,-.113,-.248,-.302,-.424,-.478,-.424,-.329,-.208,-.154,-.073,.030,.049,.049,-.011,-.011,-.011,-.135,-.235,-.262,-.113,-.167,-.208,-.289,-.275,-.289,-.294,-.370,-.383,-.397,-.194,-.208,-.019,.157,.130,.035,.035,.319,.324,.197,.170,.016,-.086,-.176,-.086,-.046,.035,.170,.278,.305,.351,.170,-.019,-.227,-.356,-.297,-.181,-.073,.068,.068,-.046,-.127,-.275,-.402,-.397,-.262,-.181,-.127,0,.008,.089,.332,.413,.413,.346,.413,.238,.224,.319,.319,.197,.022,.013,-.019,-.051,-.127,-.113,.019,.178,.219,.170,.035,-.005,0,.116,.162,.211,.246,.216,.089,.035,-.046,-.014,.016,.016,-.032,.057,.108,.351,.346,.162];
const signalLine=[[0,-.078],[2,-.073],[3,-.059],[4,-.086],[6,.022],[7,-.014],[8,.170],[10,.211],[11,.203],[13,.089],[14,-.032],[15,.143],[16,.216],[18,.143],[19,.278],[21,.116],[22,-.019],[23,-.073],[25,-.086],[26,-.167],[28,-.019],[29,-.113],[31,.089],[32,.327],[33,.143],[35,.008],[36,-.086],[39,.014],[41,-.127],[42,-.203],[44,-.127],[46,-.073],[48,.170],[49,.211],[51,-.086],[52,.084],[53,.084],[54,-.248],[55,-.257],[56,-.054],[58,-.046],[59,.081],[60,.049],[62,-.059],[63,-.019],[65,-.059],[66,-.100],[68,-.032],[69,-.167],[71,-.032],[73,-.167],[74,-.221],[75,-.100],[76,.157],[78,.238],[80,.116],[81,.138],[83,-.073],[86,-.054],[88,-.329],[90,-.019],[93,.184],[95,.419],[97,.157],[98,.116],[99,-.127],[101,-.208],[103,-.383],[104,-.316],[105,-.019],[106,.062],[109,.251],[111,.049],[113,.224],[115,.157],[116,.211],[118,.089],[119,.022],[121,.089],[122,.062],[123,-.073],[126,.257],[128,.049],[130,.089],[131,.230],[133,.008],[135,-.100],[138,.022],[139,-.167],[142,.189],[144,.103],[145,.116],[146,-.140],[149,-.167],[151,-.011],[153,-.073],[154,-.046],[155,-.113],[158,.008],[160,.170],[161,.116],[163,.535],[164,.346],[165,.143],[167,.049],[169,.494],[171,.143],[173,-.140],[176,-.208],[178,-.167],[179,-.059],[181,.124],[182,-.046],[184,-.311],[188,.008],[189,-.032],[192,.243],[194,.089],[196,-.019],[199,-.370],[201,-.073],[204,.238],[206,.035],[208,.494],[211,.224],[213,.062],[214,.405],[215,-.316],[216,-.626],[217,-.316],[218,-.208],[219,-.248],[222,-.059],[224,.035],[225,-.086],[227,.116],[228,.062],[231,-.086],[232,.076],[233,.022],[236,.035],[237,-.019],[239,-.113],[241,-.559],[242,-.478],[244,.089],[245,.116],[246,.103],[248,.143],[250,.211],[253,.184],[257,-.005],[260,.116],[262,.346],[266,-.073],[272,.076],[274,-.100],[276,-.019],[277,-.154],[280,.008],[282,-.100],[285,.432],[288,.089],[292,.062],[293,.008],[294,.089],[298,-.032],[300,.116],[304,-.086],[306,.184],[308,-.154],[310,.089],[313,-.176],[316,-.046],[319,-.275],[321,.386],[322,.265]];
const signalLevel=.0105;

// ---------- texts ----------
const chartTitle="GOLD,H1";
const rsiLabel="I(5) 62.8437";
const histLabel="her_Yur4ik 0.265";
const tooltipLines=["Bollinger Bands (89)","Time: 2016.04.28 07:00","Value: 1228.62"];
const sideLetters=["R","M","R","M","R","M","R","M","S","M","S","M","S"];
const sideColors=["#0000ff","#696969","#0000ff","#696969","#0000ff","#696969","#ff0000","#696969","#0000ff","#696969","#0000ff","#696969","#0000ff"];

// ---------- layout ----------
const W=1736,H=889;
const svg=d3.select("#c");
svg.append("rect").attr("width",W).attr("height",H).attr("fill","#000");
const defs=svg.append("defs");
[["p1",0,451],["p2",454,198],["p3",655,79],["p4",737,152]].forEach(([id,y,h])=>
  defs.append("clipPath").attr("id",id).append("rect").attr("x",0).attr("y",y).attr("width",W).attr("height",h));

const x=d3.scaleLinear().domain([0,434]).range([.5,1736.5]);
const yPrice=d3.scaleLinear().domain([1270.24,1223.73]).range([23.3,316.3]);
const yBands=d3.scaleLinear().domain([1228.62,1248.82]).range([578,525]);
const yRsi=d3.scaleLinear().domain([50,62.84]).range([709.3,684]);
const yHist=d3.scaleLinear().domain([0,.265]).range([810,777.3]);

const lineOf=y=>d3.line().x(d=>x(d[0])).y(d=>y(d[1]));
const closes=candleKinds.map((k,i)=>k==="W"?bodyBottoms[i]:bodyTops[i]);
const lastClose=closes[closes.length-1];
// squeeze a text horizontally, like the stretched screenshot's narrow glyphs
const condense=(sel,f)=>sel.each(function(){
  const w=this.getComputedTextLength();
  d3.select(this).attr("textLength",w*f).attr("lengthAdjust","spacingAndGlyphs");
});

// ---- window 1 ----
const p1=svg.append("g").attr("clip-path","url(#p1)");
const fibRightA=1663,fibLeftA=x(106),fibRightB=1447,fibLeftB=x(242);
p1.selectAll(".fa").data(fibOuterPrices).join("line").attr("x1",fibLeftA).attr("x2",fibRightA)
  .attr("y1",d=>yPrice(d)).attr("y2",d=>yPrice(d)).attr("stroke","#2f4f4f").attr("shape-rendering","crispEdges");
p1.append("line").attr("x1",0).attr("x2",W).attr("y1",yPrice(lastClose)).attr("y2",yPrice(lastClose))
  .attr("stroke","#778899").attr("shape-rendering","crispEdges");
[envUpper3,envUpper2,envUpper1,envLower1,envLower2,envLower3].forEach(s=>
  p1.append("path").attr("d",lineOf(yPrice)(s)).attr("fill","none").attr("stroke","#0e1816").attr("stroke-width",2.4));
p1.append("path").attr("d",lineOf(yPrice)(envMiddle)).attr("fill","none").attr("stroke","#0a5c10").attr("stroke-width",1.6).attr("stroke-dasharray","3 2");
p1.selectAll(".fb").data(fibInnerPrices).join("line").attr("x1",fibLeftB).attr("x2",fibRightB)
  .attr("y1",d=>yPrice(d)).attr("y2",d=>yPrice(d)).attr("stroke","#4169e1").attr("shape-rendering","crispEdges");
[fibOuterAxis,fibInnerAxis].forEach(s=>p1.append("path").attr("d",lineOf(yPrice)(s)).attr("fill","none").attr("stroke","#0000e0").attr("stroke-width",1.2).attr("stroke-dasharray","3 3"));
const trendLines=[[[211,1261.3],[381,1246.3]],[[244.2,1227.6],[380.5,1246.2]],[[228,1228.5],[398,1213.5]]];
trendLines.forEach(s=>p1.append("path").attr("d",lineOf(yPrice)(s)).attr("fill","none").attr("stroke","#00bfff").attr("stroke-width",1.3));
p1.append("path").attr("d",lineOf(yPrice)([[241.4,1237.9],[330.5,1256.2]])).attr("fill","none").attr("stroke","#ff4500").attr("stroke-width",1.2).attr("stroke-dasharray","4 5");
p1.append("line").attr("x1",968.5).attr("x2",968.5).attr("y1",95).attr("y2",288).attr("stroke","#ff00ff").attr("shape-rendering","crispEdges");
p1.append("line").attr("x1",1520.5).attr("x2",1520.5).attr("y1",175).attr("y2",365).attr("stroke","#ff00ff").attr("shape-rendering","crispEdges");
const candles=p1.append("g").attr("shape-rendering","crispEdges");
candles.selectAll("line").data(candleKinds).join("line")
  .attr("x1",(d,i)=>x(i)).attr("x2",(d,i)=>x(i))
  .attr("y1",(d,i)=>yPrice(candleHighs[i])).attr("y2",(d,i)=>yPrice(candleLows[i]))
  .attr("stroke","#00ff00");
candles.selectAll("rect").data(candleKinds).join("rect")
  .attr("x",(d,i)=>x(i)-1).attr("width",2)
  .attr("y",(d,i)=>yPrice(bodyTops[i]))
  .attr("height",(d,i)=>Math.max(1,yPrice(bodyBottoms[i])-yPrice(bodyTops[i])))
  .attr("fill",d=>d==="W"?"#fff":"#000").attr("stroke","#00ff00");
const arrowPath=d=>d==="down"?"M0,0L6,-7L6,-10L2,-7L2,-12L-2,-12L-2,-7L-6,-10L-6,-7Z":"M0,0L6,7L6,10L2,7L2,12L-2,12L-2,7L-6,10L-6,7Z";
p1.selectAll(".arr").data(fractalBars).join("path")
  .attr("transform",(d,i)=>`translate(${x(d)},${yPrice(fractalPrices[i])})`)
  .attr("d",(d,i)=>arrowPath(fractalDirs[i])).attr("fill",(d,i)=>fractalColors[i]);
[[121.6,1246.98],[137,1270.24],[106,1223.73]].forEach(d=>
  p1.append("rect").attr("x",x(d[0])-1.5).attr("y",yPrice(d[1])-1.5).attr("width",3).attr("height",3).attr("fill","#fff").attr("stroke","#111").attr("stroke-width",.4));
const fibLabel=(lv,pr,color,right)=>p1.selectAll(null).data(pr).join("text")
  .attr("x",right).attr("y",d=>yPrice(d)-3).attr("text-anchor","end")
  .attr("font-size",11.5).attr("fill",color).text((d,i)=>lv[i]+" "+d.toFixed(2)).call(condense,.8);
fibLabel(fibOuterLevels,fibOuterPrices,"#2f4f4f",fibRightA);
fibLabel(fibInnerLevels,fibInnerPrices,"#4169e1",fibRightB);
svg.append("text").attr("x",0.5).attr("y",9).attr("font-size",12).attr("fill","#e0e0e0").text(chartTitle).call(condense,.78);

// ---- window 2 ----
const p2=svg.append("g").attr("clip-path","url(#p2)");
[bbInnerUpper,bbInnerLower].forEach(s=>p2.append("path").attr("d",lineOf(yBands)(s)).attr("fill","none").attr("stroke","#2f4f4f").attr("stroke-width",1));
[fastUpper,fastMiddle,fastLower].forEach(s=>p2.append("path").attr("d",lineOf(yBands)(s)).attr("fill","none").attr("stroke","#ff4500").attr("stroke-width",1));
[bbOuterUpper,bbMiddle,bbOuterLower].forEach(s=>p2.append("path").attr("d",lineOf(yBands)(s)).attr("fill","none").attr("stroke","#0000ff").attr("stroke-width",2.4));
p2.append("path").attr("d",d3.line().x((d,i)=>x(i)).y(d=>yBands(d))(closes)).attr("fill","none").attr("stroke","#1bf4f0").attr("stroke-width",3).attr("stroke-linejoin","round");

// ---- window 3 ----
const p3=svg.append("g").attr("clip-path","url(#p3)");
p3.append("line").attr("x1",0).attr("x2",W).attr("y1",yRsi(rsiLevel)).attr("y2",yRsi(rsiLevel)).attr("stroke","#800080").attr("stroke-dasharray","4 3").attr("shape-rendering","crispEdges");
p3.append("path").attr("d",lineOf(yRsi)(rsiAverage)).attr("fill","none").attr("stroke","#f5e6c8").attr("stroke-width",1).attr("stroke-dasharray","2 2");
p3.append("path").attr("d",lineOf(yRsi)(rsiSlow)).attr("fill","none").attr("stroke","#8b008b").attr("stroke-width",1);
p3.append("path").attr("d",lineOf(yRsi)(rsiFast)).attr("fill","none").attr("stroke","#1e90ff").attr("stroke-width",1);
p3.append("path").attr("d",lineOf(yRsi)(rsiLine)).attr("fill","none").attr("stroke","#ffff00").attr("stroke-width",3).attr("stroke-linejoin","round");
svg.append("text").attr("x",51).attr("y",668).attr("text-anchor","end").attr("font-size",12).attr("fill","#d8d8d8").text(rsiLabel).call(condense,.79);

// ---- window 4 ----
const p4=svg.append("g").attr("clip-path","url(#p4)");
p4.append("g").attr("shape-rendering","crispEdges").selectAll("rect").data(histogramValues).join("rect")
  .attr("x",(d,i)=>x(i)-1.5).attr("width",3)
  .attr("y",d=>d>=0?yHist(d):yHist(0))
  .attr("height",d=>Math.abs(yHist(d)-yHist(0)))
  .attr("fill",d=>d>=0?"#00ff00":"#ff0000");
p4.append("line").attr("x1",0).attr("x2",W).attr("y1",yHist(signalLevel)).attr("y2",yHist(signalLevel)).attr("stroke","#800080").attr("stroke-dasharray","4 3").attr("shape-rendering","crispEdges");
p4.append("path").attr("d",lineOf(yHist)(signalLine)).attr("fill","none").attr("stroke","#ffff00").attr("stroke-width",3).attr("stroke-linejoin","round");
svg.append("text").attr("x",70).attr("y",750).attr("text-anchor","end").attr("font-size",12).attr("fill","#d8d8d8").text(histLabel).call(condense,.8);

// ---- separators ----
[451.5,453.5,652.5,654.5,734.5,736.5].forEach(y=>svg.append("line").attr("x1",0).attr("x2",W).attr("y1",y).attr("y2",y).attr("stroke","#fff"));

// ---- side letters ----
svg.selectAll(".side").data(sideLetters).join("text").attr("x",(d,i)=>i===6||d==="S"?1730:1728).attr("y",(d,i)=>32.5+20*i)
  .attr("font-size",18).attr("font-weight","bold").attr("fill",(d,i)=>sideColors[i]).text(d=>d);

// ---- tooltip ----
svg.append("rect").attr("x",1287.5).attr("y",596.5).attr("width",129).attr("height",49).attr("fill","#fff").attr("stroke","#8a8a8a");
tooltipLines.forEach((t,i)=>svg.append("text").attr("x",1292).attr("y",610+15*i).attr("font-size",12.5).attr("fill","#555").text(t).call(condense,.82));

// ---- magenta annotations ----
const boxes=[[1373,258.5,73,23.5],[1593,260.5,72.5,35.5]];
boxes.forEach(b=>svg.append("rect").attr("x",b[0]).attr("y",b[1]).attr("width",b[2]).attr("height",b[3]).attr("fill","none").attr("stroke","#ff00ff").attr("stroke-width",3.2));
const drawnArrows=[[566.7,520.7,665,425],[665,425,752,479],[752,479,831.5,368],[831.5,368,1015,521.7],[1015,521.7,1200,459],[1200,459,1374.6,544],[1329,631.7,1288.5,580.7]];
drawnArrows.forEach(([a,b,c,d])=>{
  svg.append("line").attr("x1",a).attr("y1",b).attr("x2",c).attr("y2",d).attr("stroke","#ff00ff").attr("stroke-width",3);
  const ang=Math.atan2(d-b,c-a)*180/Math.PI;
  svg.append("path").attr("transform",`translate(${c},${d}) rotate(${ang})`).attr("d","M0,0L-15,-5.5L-12,0L-15,5.5Z").attr("fill","#ff00ff");
});

// ---- watermark ----
svg.append("text").attr("x",1578).attr("y",885).style("font-family","'Open Sans'").attr("font-size",18.5).attr("fill","#5c5c5c").text("Activate Windows");
</script></body></html>
